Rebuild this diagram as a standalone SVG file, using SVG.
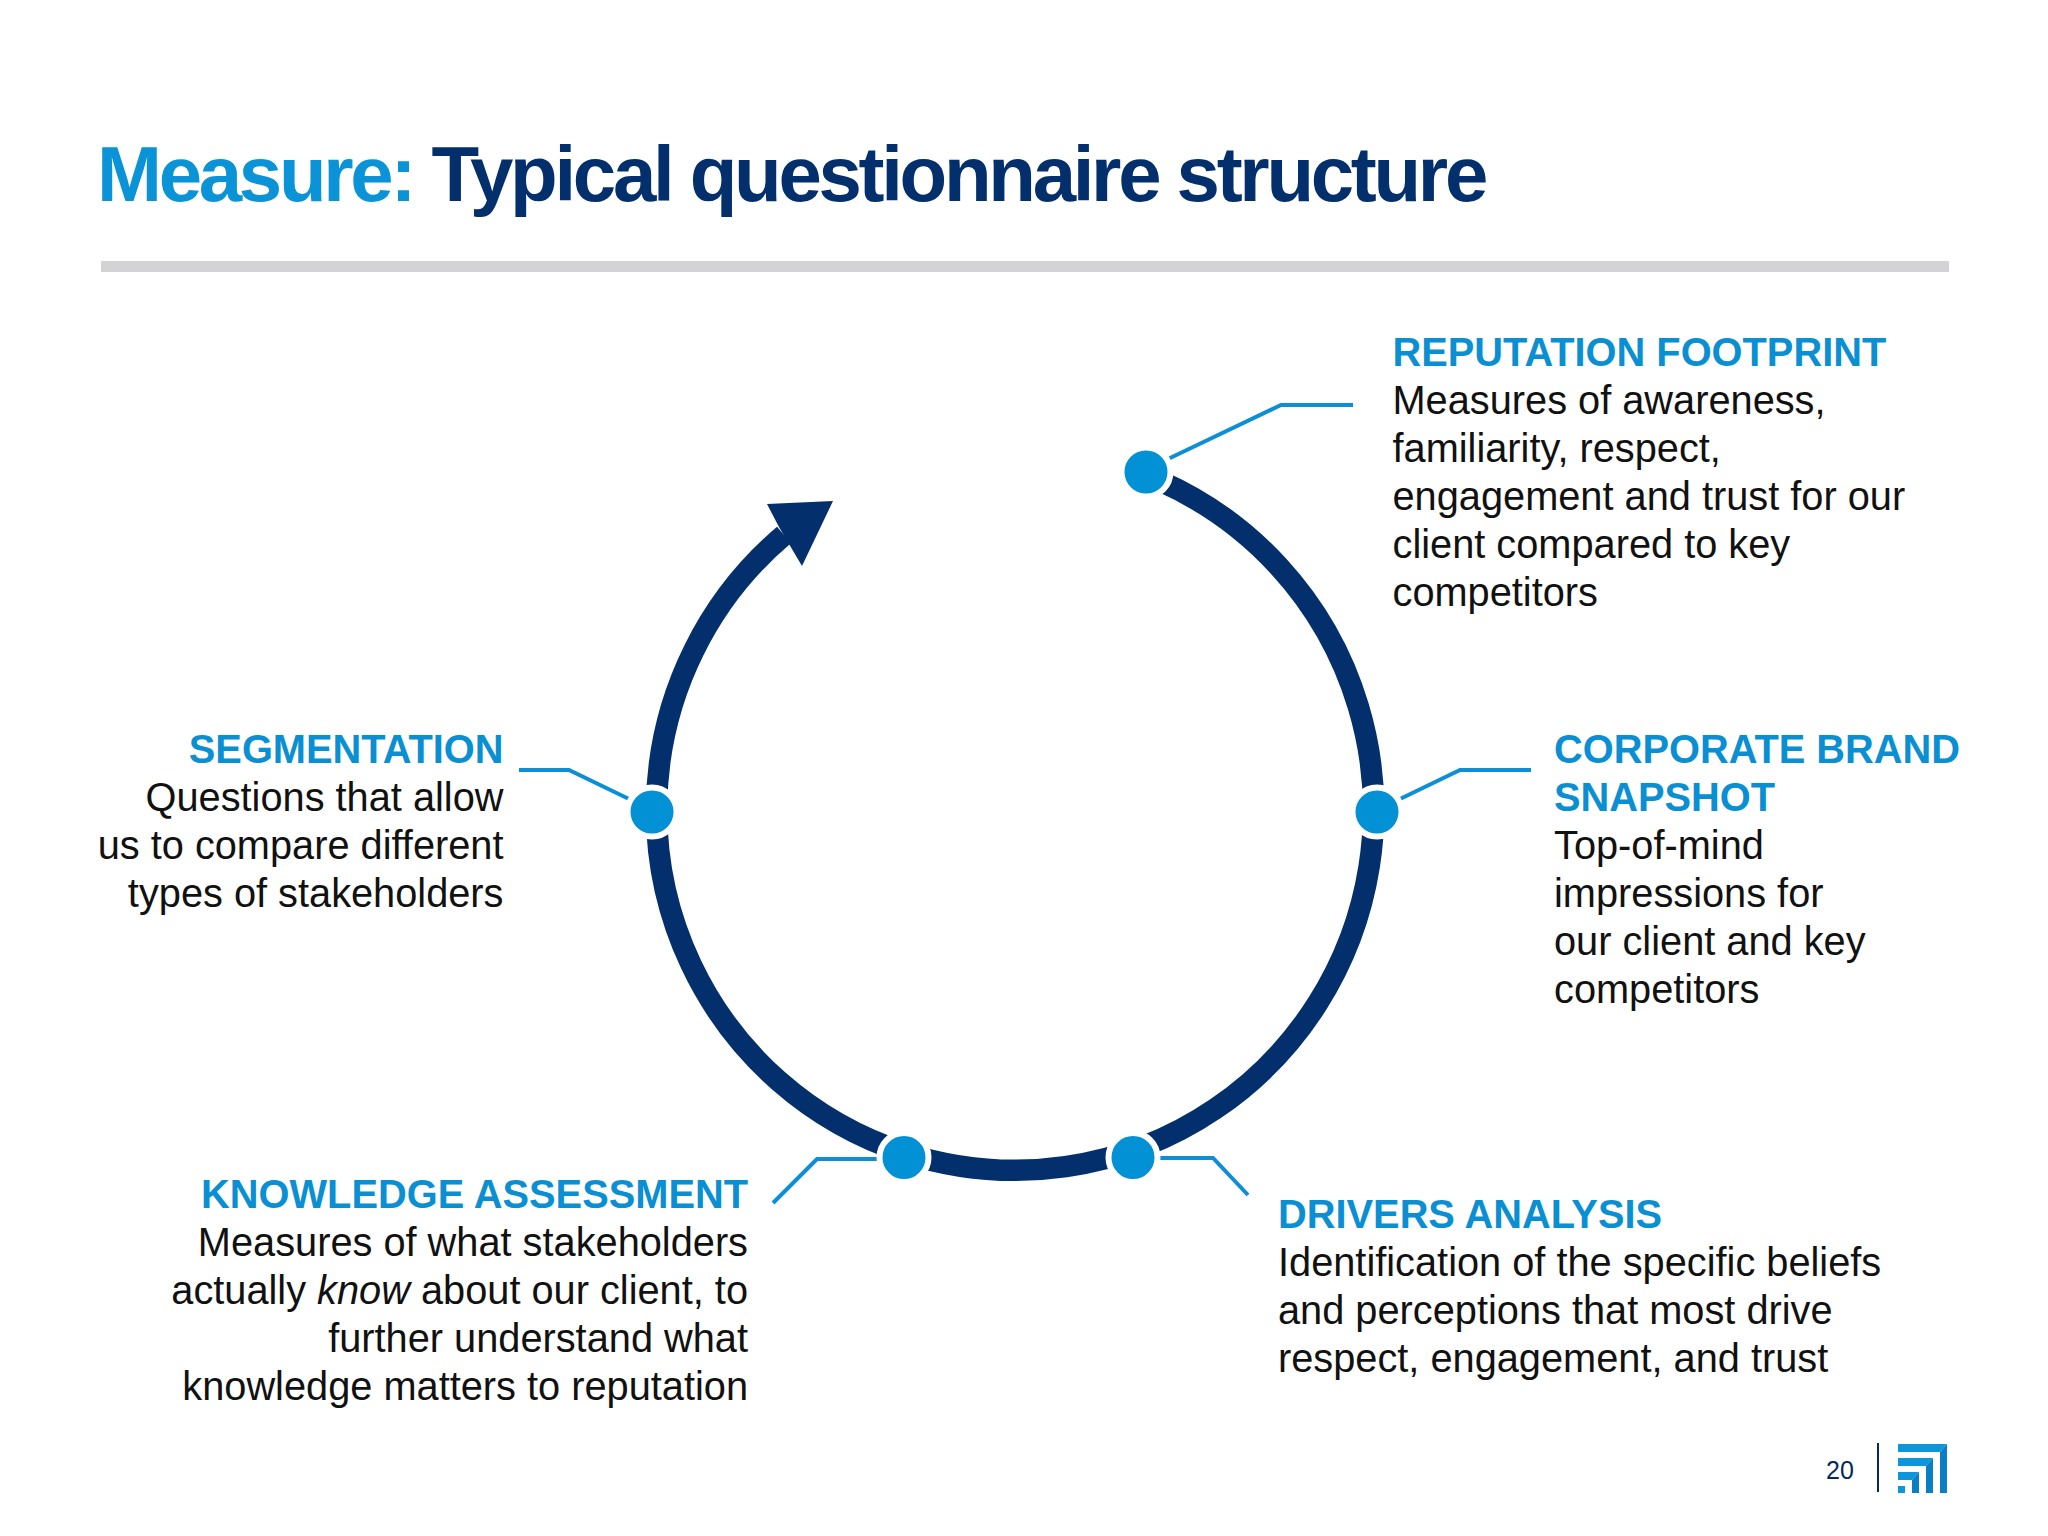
<svg xmlns="http://www.w3.org/2000/svg" width="2048" height="1536" viewBox="0 0 2048 1536">
<style>
text{font-family:"Liberation Sans",Arial,sans-serif}
.h{font-size:39.8px;font-weight:700;fill:#0a8fd3}
.b{font-size:39.75px;fill:#111}
.e{text-anchor:end}
.dot{fill:#0391d5;stroke:#fff;stroke-width:6}
.lead{fill:none;stroke:#0d8fd6;stroke-width:4}
.lg1{fill:#0d97da}.lg2{fill:#0a7fc6}
</style>
<rect width="2048" height="1536" fill="#fff"/>
<text id="title" x="97" y="201" font-size="78" font-weight="700" letter-spacing="-3.3" fill="#03306c"><tspan fill="#0a93d6">Measure:</tspan> Typical questionnaire structure</text>
<rect x="101" y="261" width="1848" height="11" fill="#d3d2d4"/>
<g id="connectors">
<path id="ring" d="M1160 481A358.5 360 0 1 1 784 535" fill="none" stroke="#03306c" stroke-width="21.5"/>
<polygon id="arrowhead" points="767,504 833,501 802,566 789,544 779,527" fill="#03306c"/>
<path class="lead" d="M1168 459L1281 405H1353"/>
<path class="lead" d="M1400 799L1460 770H1531"/>
<path class="lead" d="M519 770H569L629 799"/>
<path class="lead" d="M773 1203L817 1159H877"/>
<path class="lead" d="M1160 1158H1213L1248 1195"/>
</g>
<g id="node-reputation"><circle class="dot" cx="1146" cy="472" r="24.5"/>
<text class="h" x="1392.5" y="366">REPUTATION FOOTPRINT</text>
<text class="b" x="1392.5" y="414">Measures of awareness,</text>
<text class="b" x="1392.5" y="462">familiarity, respect,</text>
<text class="b" x="1392.5" y="510">engagement and trust for our</text>
<text class="b" x="1392.5" y="558">client compared to key</text>
<text class="b" x="1392.5" y="606">competitors</text></g>
<g id="node-corporate"><circle class="dot" cx="1377" cy="812" r="24.5"/>
<text class="h" x="1554" y="762.5">CORPORATE BRAND</text>
<text class="h" x="1554" y="810.5">SNAPSHOT</text>
<text class="b" x="1554" y="858.5">Top-of-mind</text>
<text class="b" x="1554" y="906.5">impressions for</text>
<text class="b" x="1554" y="954.5">our client and key</text>
<text class="b" x="1554" y="1002.5">competitors</text></g>
<g id="node-drivers"><circle class="dot" cx="1133" cy="1157.5" r="24.5"/>
<text class="h" x="1278" y="1228">DRIVERS ANALYSIS</text>
<text class="b" x="1278" y="1276">Identification of the specific beliefs</text>
<text class="b" x="1278" y="1324">and perceptions that most drive</text>
<text class="b" x="1278" y="1372">respect, engagement, and trust</text></g>
<g id="node-knowledge"><circle class="dot" cx="904" cy="1157.5" r="24.5"/>
<text class="h e" x="748" y="1208">KNOWLEDGE ASSESSMENT</text>
<text class="b e" x="748" y="1256">Measures of what stakeholders</text>
<text class="b e" x="748" y="1304">actually <tspan font-style="italic">know</tspan> about our client, to</text>
<text class="b e" x="748" y="1352">further understand what</text>
<text class="b e" x="748" y="1400">knowledge matters to reputation</text></g>
<g id="node-segmentation"><circle class="dot" cx="652" cy="812" r="24.5"/>
<text class="h e" x="503.5" y="762.5">SEGMENTATION</text>
<text class="b e" x="503.5" y="810.5">Questions that allow</text>
<text class="b e" x="503.5" y="858.5">us to compare different</text>
<text class="b e" x="503.5" y="906.5">types of stakeholders</text></g>
<g id="footer">
<text x="1826" y="1479" font-size="25" fill="#05295f">20</text>
<rect x="1877" y="1443" width="2" height="49" fill="#05295f"/>
<polygon class="lg1" points="1898,1444 1947,1444 1940,1452 1898,1452"/><polygon class="lg2" points="1947,1444 1947,1493 1940,1493 1940,1452"/>
<polygon class="lg1" points="1898,1458 1933,1458 1926,1466 1898,1466"/><polygon class="lg2" points="1933,1458 1933,1493 1926,1493 1926,1466"/>
<polygon class="lg1" points="1898,1472 1919,1472 1912,1480 1898,1480"/><polygon class="lg2" points="1919,1472 1919,1493 1912,1493 1912,1480"/>
<rect class="lg1" x="1898" y="1486" width="7" height="7"/>
</g>
</svg>
